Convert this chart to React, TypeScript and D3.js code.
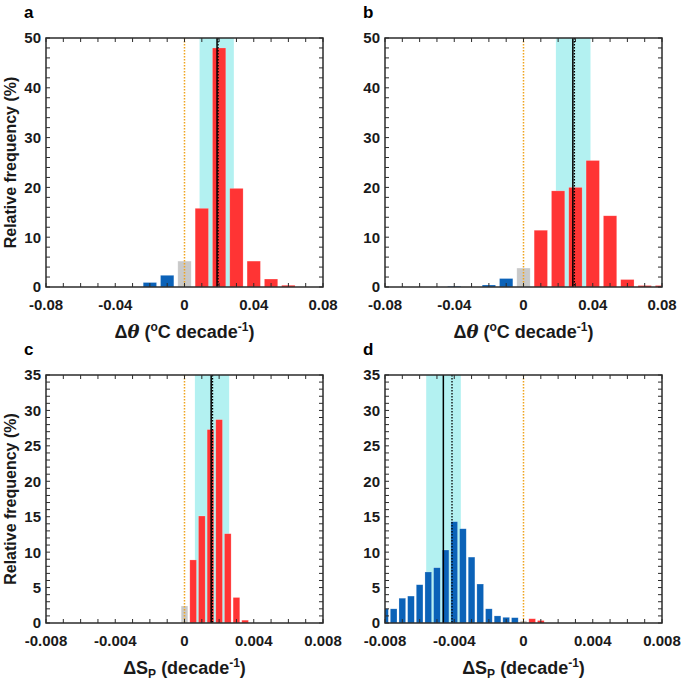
import React from "react";
import * as d3 from "d3";

// ---------- data ----------
const thetaCentersA = [-0.02, -0.01, 0, 0.01, 0.02, 0.03, 0.04, 0.05, 0.06];
const thetaFreqA = [0.9, 2.35, 5.2, 15.8, 48.0, 19.8, 5.2, 1.6, 0.35];

const thetaCentersB = [-0.04, -0.03, -0.02, -0.01, 0, 0.01, 0.02, 0.03, 0.04, 0.05, 0.06, 0.07, 0.08];
const thetaFreqB = [0.15, 0, 0.4, 1.7, 3.8, 11.4, 19.3, 20.0, 25.4, 14.3, 1.5, 0.3, 0.3];

const salCentersC = [0, 0.0005, 0.001, 0.0015, 0.002, 0.0025, 0.003, 0.0035];
const salFreqC = [2.4, 8.9, 15.1, 27.3, 28.7, 12.6, 3.6, 0.4];

const salCentersD = [
  -0.008, -0.0075, -0.007, -0.0065, -0.006, -0.0055, -0.005, -0.0045, -0.004, -0.0035,
  -0.003, -0.0025, -0.002, -0.0015, -0.001, -0.0005, 0, 0.0005, 0.001,
];
const salFreqD = [
  2.0, 2.0, 3.5, 3.8, 5.4, 7.2, 7.8, 10.3, 14.3, 13.3,
  9.3, 5.5, 2.0, 1.0, 0.8, 0.75, 0.3, 0.6, 0.35,
];

const bandA = [0.0087, 0.0285];
const medianA = 0.0188;
const meanA = 0.0194;
const bandB = [0.0187, 0.0387];
const medianB = 0.0285;
const meanB = 0.0294;
const bandC = [0.0006, 0.00258];
const medianC = 0.00154;
const meanC = 0.00162;
const bandD = [-0.00562, -0.00362];
const medianD = -0.00463;
const meanD = -0.00413;

const thetaTicks = [-0.08, -0.04, 0, 0.04, 0.08];
const thetaTickLabels = ["-0.08", "-0.04", "0", "0.04", "0.08"];
const salTicks = [-0.008, -0.004, 0, 0.004, 0.008];
const salTickLabels = ["-0.008", "-0.004", "0", "0.004", "0.008"];
const freqTicks50 = [0, 10, 20, 30, 40, 50];
const freqTicks35 = [0, 5, 10, 15, 20, 25, 30, 35];

// ---------- styles ----------
const FONT = "'Liberation Sans', Arial, Helvetica, sans-serif";
const RED = "#ff3434";
const BLUE = "#0b62b8";
const GRAY = "#c9c9c9";
const CYAN = "#b3f1f1";
const ORANGE = "#f0a41e";
const AXIS = "#2b2b2b";

type PanelProps = {
  id: string;
  left: number;
  top: number;
  width: number;
  height: number;
  xMax: number;
  xMinorStep: number;
  xTicks: number[];
  xTickLabels: string[];
  yMax: number;
  yTicks: number[];
  yMinorStep: number;
  centers: number[];
  freqs: number[];
  binWidth: number;
  band: number[];
  median: number;
  mean: number;
  xTitle: "theta" | "sal";
  showYTitle: boolean;
};

function Panel(p: PanelProps) {
  const x = d3.scaleLinear().domain([-p.xMax, p.xMax]).range([p.left, p.left + p.width]);
  const y = d3.scaleLinear().domain([0, p.yMax]).range([p.top + p.height, p.top]);
  const x0 = p.left, x1 = p.left + p.width, yb = p.top + p.height, yt = p.top;
  const nX = Math.round((2 * p.xMax) / p.xMinorStep);
  const xMinor = d3.range(nX + 1).map((i) => -p.xMax + i * p.xMinorStep);
  const nY = Math.round(p.yMax / p.yMinorStep);
  const yMinor = d3.range(nY + 1).map((i) => i * p.yMinorStep);
  const tl = 4;
  const bw = p.binWidth * 0.77;
  const clipId = "clip-" + p.id;
  const colorFor = (c: number) => (Math.abs(c) < 1e-9 ? GRAY : c < 0 ? BLUE : RED);
  const cx = (x0 + x1) / 2;
  const cy = (yt + yb) / 2;

  return (
    <g>
      <defs>
        <clipPath id={clipId}>
          <rect x={x0} y={yt} width={p.width} height={p.height} />
        </clipPath>
      </defs>
      <g clipPath={`url(#${clipId})`}>
        <rect x={x(p.band[0])} y={yt} width={x(p.band[1]) - x(p.band[0])} height={p.height} fill={CYAN} />
        {p.centers.map((c, i) =>
          p.freqs[i] > 0 ? (
            <rect
              key={i}
              x={x(c - bw / 2)}
              y={y(p.freqs[i])}
              width={x(c + bw / 2) - x(c - bw / 2)}
              height={yb - y(p.freqs[i])}
              fill={colorFor(c)}
              stroke="#ffffff"
              strokeOpacity={0.35}
              strokeWidth={0.6}
            />
          ) : null
        )}
        <line x1={x(0)} x2={x(0)} y1={yt} y2={yb} stroke={ORANGE} strokeWidth={1.5} strokeDasharray="1.5,1.5" />
        <line x1={x(p.median)} x2={x(p.median)} y1={yt} y2={yb} stroke="#000" strokeWidth={1.5} />
        <line x1={x(p.mean)} x2={x(p.mean)} y1={yt} y2={yb} stroke="#000" strokeWidth={1.3} strokeDasharray="1.5,1.5" />
      </g>
      {/* ticks */}
      {xMinor.map((v, i) => (
        <g key={"xt" + i}>
          <line x1={x(v)} x2={x(v)} y1={yb} y2={yb - tl} stroke={AXIS} strokeWidth={1} />
          <line x1={x(v)} x2={x(v)} y1={yt} y2={yt + tl} stroke={AXIS} strokeWidth={1} />
        </g>
      ))}
      {yMinor.map((v, i) => (
        <g key={"yt" + i}>
          <line x1={x0} x2={x0 + tl} y1={y(v)} y2={y(v)} stroke={AXIS} strokeWidth={1} />
          <line x1={x1} x2={x1 - tl} y1={y(v)} y2={y(v)} stroke={AXIS} strokeWidth={1} />
        </g>
      ))}
      <rect x={x0} y={yt} width={p.width} height={p.height} fill="none" stroke={AXIS} strokeWidth={1.5} />
      {/* tick labels */}
      {p.xTicks.map((v, i) => (
        <text key={"xl" + i} x={x(v)} y={yb + 23} textAnchor="middle" fontFamily={FONT} fontWeight="bold" fontSize={15} fill="#1a1a1a">
          {p.xTickLabels[i]}
        </text>
      ))}
      {p.yTicks.map((v, i) => (
        <text key={"yl" + i} x={x0 - 5} y={y(v)} dy="0.36em" textAnchor="end" fontFamily={FONT} fontWeight="bold" fontSize={15} fill="#1a1a1a">
          {String(v)}
        </text>
      ))}
      {/* panel letter */}
      <text x={x0 - 22} y={yt - 20} fontFamily={FONT} fontWeight="bold" fontSize={17} fill="#000">
        {p.id}
      </text>
      {/* x title */}
      {p.xTitle === "theta" ? (
        <text x={cx} y={yb + 51} textAnchor="middle" fontFamily={FONT} fontWeight="bold" fontSize={18} fill="#1a1a1a">
          <tspan>Δ</tspan>
          <tspan fontStyle="italic" fontFamily="'DejaVu Serif', 'Liberation Serif', serif">θ</tspan>
          <tspan> (</tspan>
          <tspan dy={-7} fontSize={12}>o</tspan>
          <tspan dy={7}>C decade</tspan>
          <tspan dy={-7} fontSize={12}>-1</tspan>
          <tspan dy={7}>)</tspan>
        </text>
      ) : (
        <text x={cx} y={yb + 51} textAnchor="middle" fontFamily={FONT} fontWeight="bold" fontSize={18} fill="#1a1a1a">
          <tspan>ΔS</tspan>
          <tspan dy={4} fontSize={12}>P</tspan>
          <tspan dy={-4}> (decade</tspan>
          <tspan dy={-7} fontSize={12}>-1</tspan>
          <tspan dy={7}>)</tspan>
        </text>
      )}
      {p.showYTitle ? (
        <text
          transform={`translate(${x0 - 30},${cy}) rotate(-90)`}
          textAnchor="middle"
          fontFamily={FONT}
          fontWeight="bold"
          fontSize={16}
          fill="#1a1a1a"
        >
          Relative frequency (%)
        </text>
      ) : null}
    </g>
  );
}

export default function App() {
  const W = 685, H = 685;
  const colL = 46, colR = 385, pw = 277;
  const rowT = 38, rowB = 375, ph1 = 249, ph2 = 248;
  return (
    <svg width={W} height={H} viewBox={`0 0 ${W} ${H}`} style={{ position: "absolute", left: 0, top: 0, background: "#fff" }}>
      <rect x={0} y={0} width={W} height={H} fill="#fff" />
      <Panel id="a" left={colL} top={rowT} width={pw} height={ph1} xMax={0.08} xMinorStep={0.01}
        xTicks={thetaTicks} xTickLabels={thetaTickLabels} yMax={50} yTicks={freqTicks50} yMinorStep={2}
        centers={thetaCentersA} freqs={thetaFreqA} binWidth={0.01} band={bandA} median={medianA} mean={meanA}
        xTitle="theta" showYTitle={true} />
      <Panel id="b" left={colR} top={rowT} width={pw} height={ph1} xMax={0.08} xMinorStep={0.01}
        xTicks={thetaTicks} xTickLabels={thetaTickLabels} yMax={50} yTicks={freqTicks50} yMinorStep={2}
        centers={thetaCentersB} freqs={thetaFreqB} binWidth={0.01} band={bandB} median={medianB} mean={meanB}
        xTitle="theta" showYTitle={false} />
      <Panel id="c" left={colL} top={rowB} width={pw} height={ph2} xMax={0.008} xMinorStep={0.001}
        xTicks={salTicks} xTickLabels={salTickLabels} yMax={35} yTicks={freqTicks35} yMinorStep={1}
        centers={salCentersC} freqs={salFreqC} binWidth={0.0005} band={bandC} median={medianC} mean={meanC}
        xTitle="sal" showYTitle={true} />
      <Panel id="d" left={colR} top={rowB} width={pw} height={ph2} xMax={0.008} xMinorStep={0.001}
        xTicks={salTicks} xTickLabels={salTickLabels} yMax={35} yTicks={freqTicks35} yMinorStep={1}
        centers={salCentersD} freqs={salFreqD} binWidth={0.0005} band={bandD} median={medianD} mean={meanD}
        xTitle="sal" showYTitle={false} />
    </svg>
  );
}
